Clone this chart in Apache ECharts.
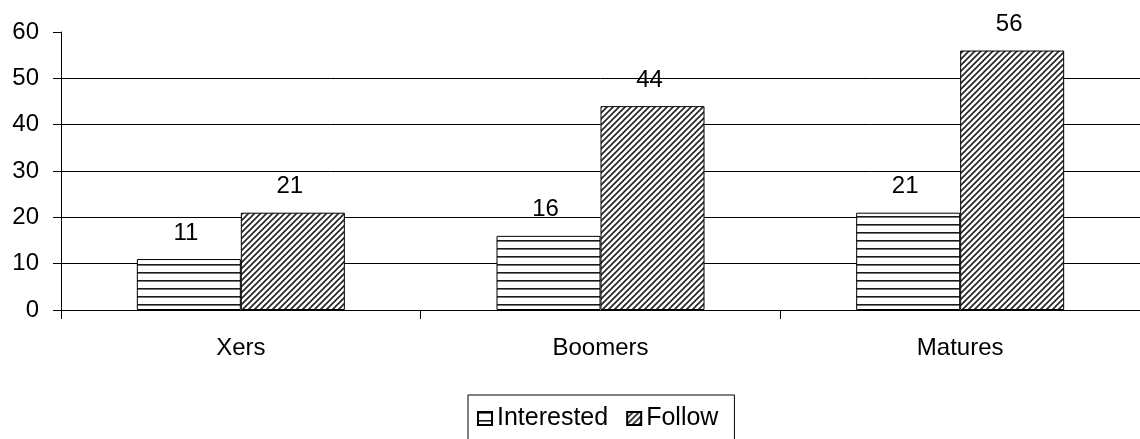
<!DOCTYPE html>
<html>
<head>
<meta charset="utf-8">
<script src="https://cdn.jsdelivr.net/npm/echarts@6/dist/echarts.min.js"></script>
<style>
  html, body { margin: 0; padding: 0; background: #fff; }
  #chart { width: 1140px; height: 439px; }
</style>
</head>
<body>
<div id="chart"></div>
<script>
// Survey shares by generation
const categories = ['Xers', 'Boomers', 'Matures'];
const seriesNames = ['Interested', 'Follow'];
const interested = [11, 16, 21];
const follow = [21, 44, 56];
const yMin = 0;
const yMax = 60;
const yStep = 10;

const FONT = '"Liberation Sans", Arial, sans-serif';

// Horizontal-stripe fill tile
function stripeTile() {
  const c = document.createElement('canvas');
  c.width = 8; c.height = 8;
  const g = c.getContext('2d');
  g.fillStyle = '#ffffff';
  g.fillRect(0, 0, 8, 8);
  g.fillStyle = '#1a1a1a';
  g.fillRect(0, 0, 8, 1.6);
  return c;
}

// Diagonal-hatch fill tile (lines rising to the right)
function hatchTile() {
  const s = 6;
  const c = document.createElement('canvas');
  c.width = s; c.height = s;
  const g = c.getContext('2d');
  g.fillStyle = '#ffffff';
  g.fillRect(0, 0, s, s);
  g.strokeStyle = '#222222';
  g.lineWidth = 1.6;
  g.beginPath();
  g.moveTo(-1, s + 1); g.lineTo(s + 1, -1);
  g.moveTo(-1, 1); g.lineTo(1, -1);
  g.moveTo(s - 1, s + 1); g.lineTo(s + 1, s - 1);
  g.stroke();
  return c;
}

const stripeFill = { image: stripeTile(), repeat: 'repeat' };
const hatchFill = { image: hatchTile(), repeat: 'repeat' };

const chart = echarts.init(document.getElementById('chart'), null, { renderer: 'canvas' });

const labelStyle = {
  show: true,
  position: 'top',
  distance: 14,
  offset: [-3, 0],
  color: '#000',
  fontFamily: FONT,
  fontSize: 24
};

chart.setOption({
  animation: false,
  backgroundColor: '#ffffff',
  grid: { left: 61, top: 32, width: 1082, height: 278, containLabel: false },
  xAxis: {
    type: 'category',
    data: categories,
    boundaryGap: true,
    axisLine: { lineStyle: { color: '#000', width: 1 } },
    axisTick: { show: true, length: 9, lineStyle: { color: '#000' } },
    axisLabel: { color: '#000', fontFamily: FONT, fontSize: 24, margin: 26 }
  },
  yAxis: {
    type: 'value',
    min: yMin,
    max: yMax,
    interval: yStep,
    axisLine: { show: true, lineStyle: { color: '#000', width: 1 } },
    axisTick: { show: true, length: 8, lineStyle: { color: '#000' } },
    axisLabel: { color: '#000', fontFamily: FONT, fontSize: 24, margin: 22 },
    splitLine: { show: true, showMaxLine: false, lineStyle: { color: '#000', width: 1 } }
  },
  legend: {
    data: seriesNames,
    left: 468,
    top: 395,
    orient: 'horizontal',
    borderColor: '#000',
    borderWidth: 1,
    padding: [11, 16, 30, 9],
    itemGap: 18,
    itemWidth: 14,
    itemHeight: 13,
    icon: 'rect',
    textStyle: { color: '#000', fontFamily: FONT, fontSize: 25 }
  },
  series: [
    {
      name: seriesNames[0],
      type: 'bar',
      data: interested,
      barWidth: 104,
      barGap: '0%',
      itemStyle: { color: stripeFill, borderColor: '#000', borderWidth: 1 },
      label: labelStyle
    },
    {
      name: seriesNames[1],
      type: 'bar',
      data: follow,
      barWidth: 104,
      barGap: '0%',
      itemStyle: { color: hatchFill, borderColor: '#000', borderWidth: 1 },
      label: labelStyle
    }
  ]
});
</script>
</body>
</html>
